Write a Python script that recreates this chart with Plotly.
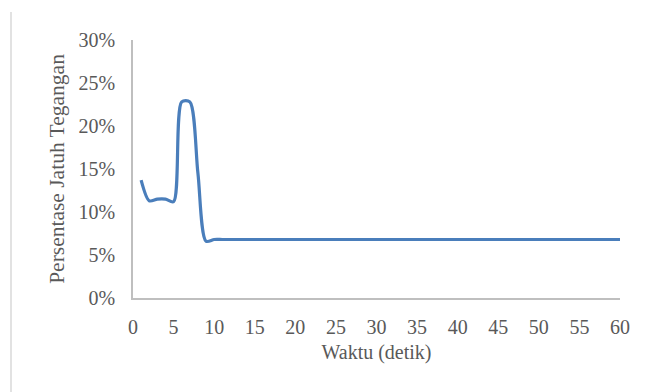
import plotly.graph_objects as go

# Voltage drop percentage over time (seconds 1..60)
waktu = list(range(1, 61))
jatuh_tegangan = [13.7, 11.3, 11.5, 11.5, 11.2, 22.8, 22.8, 14.5, 6.6] + [6.8] * 51

x_ticks = list(range(0, 61, 5))
y_ticks = [0, 5, 10, 15, 20, 25, 30]
y_tick_labels = [f"{v}%" for v in y_ticks]

GREY_TEXT = "#595959"
AXIS_GREY = "#bfbfbf"
TEXT_FONT = dict(family="Liberation Serif", size=20, color=GREY_TEXT)
YTITLE_FONT = dict(family="Liberation Serif", size=21.5, color=GREY_TEXT)

fig = go.Figure()
fig.add_trace(go.Scatter(
    x=waktu,
    y=jatuh_tegangan,
    mode="lines",
    line=dict(color="#4a7ebb", width=3.2, shape="spline", smoothing=0.8),
    hoverinfo="skip",
    showlegend=False,
))

fig.update_layout(
    template="none",
    width=647,
    height=392,
    margin=dict(l=133, r=27, t=40, b=94),
    paper_bgcolor="white",
    plot_bgcolor="white",
    font=TEXT_FONT,
    xaxis=dict(
        range=[0, 60],
        tickvals=x_ticks,
        ticktext=[str(v) for v in x_ticks],
        tickfont=TEXT_FONT,
        showgrid=False,
        zeroline=False,
        showline=True,
        linecolor=AXIS_GREY,
        linewidth=1.5,
        ticks="",
        ticklabelstandoff=10,
        title=dict(text="Waktu (detik)", standoff=8, font=TEXT_FONT),
    ),
    yaxis=dict(
        range=[0, 30],
        tickvals=y_ticks,
        ticktext=y_tick_labels,
        tickfont=TEXT_FONT,
        showgrid=False,
        zeroline=False,
        showline=True,
        linecolor=AXIS_GREY,
        linewidth=1.5,
        ticks="",
        ticklabelstandoff=12,
        title=dict(text="Persentase Jatuh Tegangan", standoff=8, font=YTITLE_FONT),
    ),
    shapes=[
        # left edge of the chart frame
        dict(
            type="line",
            xref="paper", yref="paper",
            xsizemode="pixel", xanchor=0,
            ysizemode="pixel", yanchor=0,
            x0=-122, x1=-122, y0=-94, y1=286,
            line=dict(color="#d9d9d9", width=1.5),
        )
    ],
)

fig.write_html("out.html")
